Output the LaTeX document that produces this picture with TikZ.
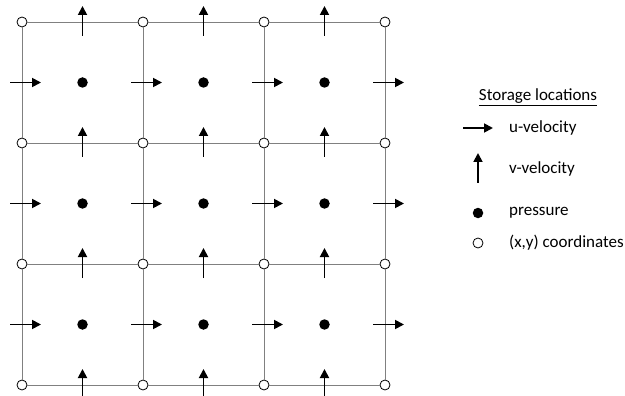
\documentclass[tikz,border=0pt]{standalone}
\usepackage{fontspec}
\setmainfont{Carlito}
\usetikzlibrary{arrows.meta}
\begin{document}
\begin{tikzpicture}[x=1pt,y=-1pt,
  gridline/.style={draw=black!50, line width=0.9pt},
  vert/.style={circle, draw=black, fill=white, line width=0.8pt, minimum size=10pt, inner sep=0pt},
  pdot/.style={circle, fill=black, minimum size=10.5pt, inner sep=0pt},
  vel/.style={line width=1.8pt, -{Triangle[length=9pt,width=9pt]}},
  lbl/.style={anchor=west, font=\fontsize{17}{20}\selectfont, inner sep=0pt}]
\useasboundingbox (0,0) rectangle (625,396);
% grid vertices
\foreach \i in {0,...,3}
  \foreach \j in {0,...,3}
    \node[vert] (v\i\j) at ({22+121*\i},{22+121*\j}) {};
% grid lines
\foreach \i in {0,...,3}
  \foreach \j/\k in {0/1,1/2,2/3} {
    \draw[gridline] (v\i\j) -- (v\i\k);
    \draw[gridline] (v\j\i) -- (v\k\i);
  }
% pressure dots
\foreach \i in {0,1,2}
  \foreach \j in {0,1,2}
    \node[pdot] (p\i\j) at ({82.5+121*\i},{82.5+121*\j}) {};
% u-velocity arrows
\foreach \i in {0,...,3}
  \foreach \j in {0,1,2} {
    \coordinate (ua\i\j) at ({22+121*\i-12},{82.5+121*\j});
    \coordinate (ub\i\j) at ({22+121*\i+19},{82.5+121*\j});
    \draw[vel] (ua\i\j) -- (ub\i\j);
  }
% v-velocity arrows
\foreach \i in {0,1,2}
  \foreach \j in {0,...,3} {
    \coordinate (va\i\j) at ({82.5+121*\i},{22+121*\j+14});
    \coordinate (vb\i\j) at ({82.5+121*\i},{22+121*\j-16});
    \draw[vel] (va\i\j) -- (vb\i\j);
  }
% legend
\node[lbl, anchor=center] (title) at (538,97) {\underline{Storage locations}};
\coordinate (lua) at (463,128);
\coordinate (lub) at (493,128);
\draw[vel] (lua) -- (lub);
\node[lbl] (lu) at (509,128) {u-velocity};
\coordinate (lva) at (478,183);
\coordinate (lvb) at (478,153);
\draw[vel] (lva) -- (lvb);
\node[lbl] (lv) at (509,169) {v-velocity};
\node[pdot] (lp) at (478,213) {};
\node[lbl] (lpt) at (509,213) {pressure};
\node[vert] (lc) at (478,243) {};
\node[lbl] (lct) at (509,243) {(x,y) coordinates};
\end{tikzpicture}
\end{document}
